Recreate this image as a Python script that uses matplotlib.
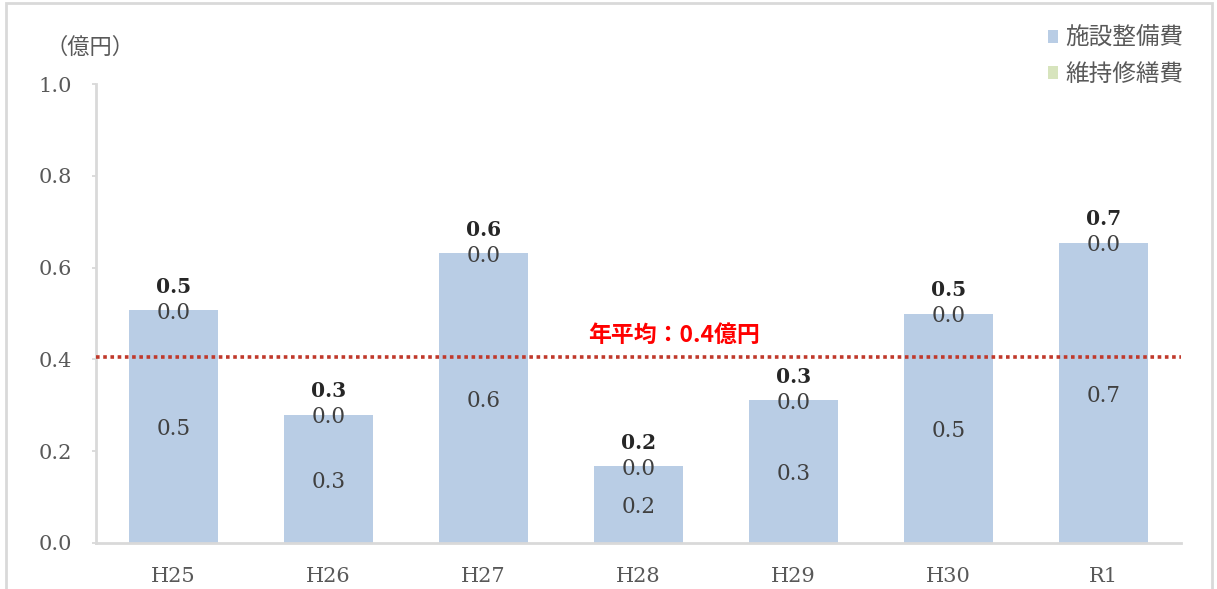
import numpy as np
import matplotlib.pyplot as plt
from matplotlib.patches import Rectangle

plt.rcParams['font.family'] = ['DejaVu Serif', 'Noto Sans CJK JP', 'DejaVu Sans']
jp = ['Noto Sans CJK JP', 'DejaVu Sans']

years = ['H25', 'H26', 'H27', 'H28', 'H29', 'H30', 'R1']
facility = [0.508, 0.280, 0.632, 0.167, 0.311, 0.500, 0.655]
maintenance = [0.0, 0.0, 0.0, 0.0, 0.0, 0.0, 0.0]
average = 0.406
avg_label = '年平均：0.4億円'
series_names = ['施設整備費', '維持修繕費']

c_fac = '#B9CDE5'
c_mnt = '#D7E4BD'
grey = '#595959'

fig = plt.figure(figsize=(12.17, 5.89), dpi=100)
ax = fig.add_axes([0.0789, 0.0781, 0.8915, 0.7789])

x = np.arange(len(years))
fac = np.array(facility)
mnt = np.array(maintenance)
total = fac + mnt
w = 0.57

ax.bar(x, fac, w, color=c_fac, label=series_names[0], zorder=2)
ax.bar(x, mnt, w, bottom=fac, color=c_mnt, label=series_names[1], zorder=2)

# value labels: facility (mid bar), maintenance (on top), total (bold, above)
dy = -0.006
for i in range(len(x)):
    ax.text(x[i], fac[i] / 2 + dy, f'{fac[i]:.1f}', ha='center', va='center',
            fontsize=15.5, color='#404040', zorder=3)
    ax.text(x[i], fac[i] + mnt[i] / 2 + dy, f'{mnt[i]:.1f}', ha='center', va='center',
            fontsize=15.5, color='#404040', zorder=3)
    ax.text(x[i], total[i] + 0.057 + dy, f'{total[i]:.1f}', ha='center', va='center',
            fontsize=14.5, fontweight='bold', color='#262626', zorder=3)

ax.axhline(average, color='#C0392B', lw=2.6, ls=(0, (1, 1)), zorder=4)
ax.text(3.23, average + 0.046, avg_label, ha='center', va='center', fontsize=16.5,
        fontweight='bold', color='#FF0000', family=jp)

ax.set_xlim(-0.5, 6.5)
ax.set_ylim(0, 1.0)
ax.set_yticks(np.arange(0, 1.01, 0.2))
ax.yaxis.set_major_formatter(plt.FormatStrFormatter('%.1f'))
ax.set_xticks(x)
ax.set_xticklabels(years)
ax.tick_params(axis='y', length=3, color='#D9D9D9', width=1.3, labelsize=15,
               labelcolor=grey, pad=14)
ax.tick_params(axis='x', length=0, labelsize=15, labelcolor=grey, pad=17)
for s in ['top', 'right']:
    ax.spines[s].set_visible(False)
for s in ['left', 'bottom']:
    ax.spines[s].set_color('#D9D9D9')
    ax.spines[s].set_linewidth(2)

fig.text(0.0740, 0.920, '（億円）', ha='center', va='center', fontsize=16,
         color=grey, family=jp)

leg = fig.legend(loc='upper right', bbox_to_anchor=(0.99, 0.99), frameon=False,
                 handlelength=0.45, handleheight=0.45, handletextpad=0.3,
                 labelspacing=0.55, prop={'family': jp, 'size': 17})
for t in leg.get_texts():
    t.set_color(grey)

fig.patches.append(Rectangle((0.005, -0.05), 0.991, 1.045, transform=fig.transFigure,
                             fill=False, edgecolor='#D9D9D9', lw=2))

fig.savefig('out.png', dpi=100)
